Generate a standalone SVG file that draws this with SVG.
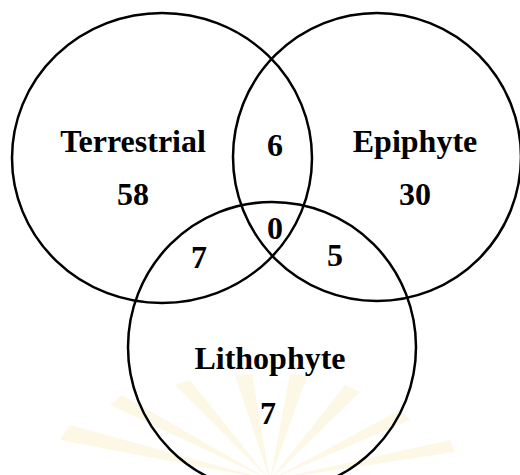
<svg xmlns="http://www.w3.org/2000/svg" width="520" height="475" viewBox="0 0 520 475">
<style>
.c{fill:none;stroke:#000;stroke-width:2.5}
.t{font-family:"Liberation Serif","Times New Roman",serif;font-weight:bold;font-size:32px;fill:#000;text-anchor:middle}
.w{fill:#fdf8e6}
</style>
<rect width="520" height="475" fill="#fff"/>
<g id="watermark">
<path class="w" d="M270 480 L60 440 L70 425 Z"/>
<path class="w" d="M270 480 L110 405 L122 395 Z"/>
<path class="w" d="M270 480 L175 385 L190 380 Z"/>
<path class="w" d="M270 480 L235 375 L252 374 Z"/>
<path class="w" d="M270 480 L290 374 L307 376 Z"/>
<path class="w" d="M270 480 L345 385 L360 392 Z"/>
<path class="w" d="M270 480 L400 410 L410 420 Z"/>
<path class="w" d="M270 480 L450 440 L455 452 Z"/>
</g>
<g id="terrestrial">
<ellipse class="c" cx="162" cy="158" rx="150" ry="145"/>
<text class="t" x="133" y="152">Terrestrial</text>
<text class="t" x="133" y="205">58</text>
</g>
<g id="epiphyte">
<ellipse class="c" cx="377" cy="157" rx="144" ry="144"/>
<text class="t" x="415" y="152">Epiphyte</text>
<text class="t" x="415" y="205">30</text>
</g>
<g id="lithophyte">
<ellipse class="c" cx="272" cy="347" rx="144" ry="145"/>
<text class="t" x="270" y="369">Lithophyte</text>
<text class="t" x="268" y="424">7</text>
</g>
<g id="overlaps">
<text class="t" x="275" y="156">6</text>
<text class="t" x="275" y="239">0</text>
<text class="t" x="199" y="268">7</text>
<text class="t" x="335" y="266">5</text>
</g>
</svg>
